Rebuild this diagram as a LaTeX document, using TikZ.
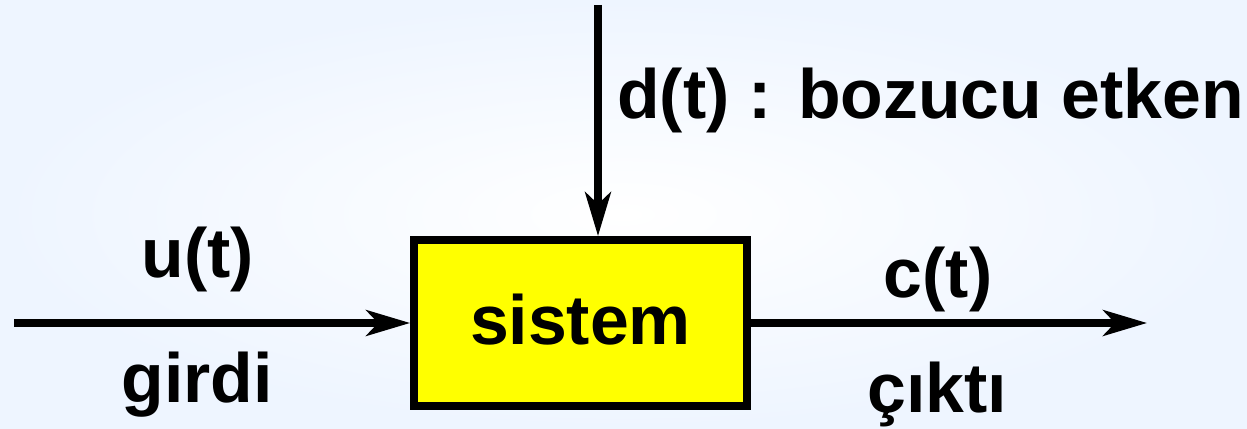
\documentclass[tikz,border=0pt]{standalone}
\usepackage{fontspec}
\setmainfont{Liberation Sans}
\usetikzlibrary{arrows.meta}
\definecolor{bgblue}{RGB}{238,245,255}
\definecolor{boxyellow}{RGB}{255,255,0}
\tikzset{
  lbl/.style={font=\fontsize{39.7}{46}\selectfont\bfseries, anchor=base, inner sep=0pt},
  sysbox/.style={draw=black, line width=4.5pt, fill=boxyellow, minimum width=6.66cm, minimum height=3.32cm,
    font=\fontsize{39.7}{46}\selectfont\bfseries, text height=25pt, text depth=0pt},
  sig/.style={line width=4pt, -{Stealth[length=25pt, width=14.7pt, inset=6.8pt]}}
}
\begin{document}
\begin{tikzpicture}[x=0.02cm, y=-0.02cm]
\useasboundingbox (0,0) rectangle (1247,429);
\shade[inner color=white, outer color=bgblue] (0,0) rectangle (1247,429);
\node[sysbox] (box) at (580.5,323) {sistem};
\coordinate (inL) at (14,323);
\coordinate (outR) at (1147,323);
\coordinate (dtop) at (598,5);
\draw[sig] (inL) -- (box.west);
\draw[sig] (box.east) -- (outR);
\draw[sig] (dtop) -- (dtop |- box.north);
\node[lbl] (ut) at (198,277) {u(t)};
\node[lbl] (gi) at (197,402) {girdi};
\node[lbl] (ct) at (938,297) {c(t)};
\node[lbl] (ci) at (937,412) {çıktı};
\node[lbl, anchor=base west] (dt) at (617,118) {d(t) : bozucu etken};
\end{tikzpicture}
\end{document}
